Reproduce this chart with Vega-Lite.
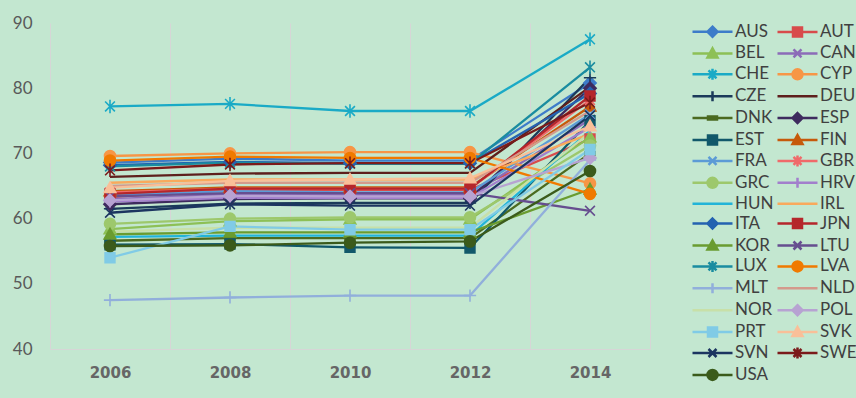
{
"$schema": "https://vega.github.io/schema/vega-lite/v6.json",
"width": 600, "height": 326,
"padding": {"top": 14, "left": 12, "right": 0, "bottom": 14},
"background": "#c3e7d0",
"config": {"view": {"stroke": null}, "font": "Lato",
  "legend": {"columns": 2, "direction": "horizontal", "labelFont": "Lato", "labelFontSize": 17, "labelColor": "#404040", "symbolSize": 100, "symbolStrokeWidth": 2.5, "rowPadding": 0.9, "columnPadding": -2, "labelOffset": 14, "offset": 54, "padding": 0, "symbolLimit": 0}},
"datasets": {"d": [
{"c":"AUS","year":"2006","v":68.6},{"c":"AUS","year":"2008","v":69.2},{"c":"AUS","year":"2010","v":68.9},{"c":"AUS","year":"2012","v":68.9},{"c":"AUS","year":"2014","v":80.8},
{"c":"AUT","year":"2006","v":63.3},{"c":"AUT","year":"2008","v":64.4},{"c":"AUT","year":"2010","v":64.4},{"c":"AUT","year":"2012","v":64.4},{"c":"AUT","year":"2014","v":72.2},
{"c":"BEL","year":"2006","v":58.4},{"c":"BEL","year":"2008","v":59.6},{"c":"BEL","year":"2010","v":59.9},{"c":"BEL","year":"2012","v":59.9},{"c":"BEL","year":"2014","v":72.5},
{"c":"CAN","year":"2006","v":63.0},{"c":"CAN","year":"2008","v":63.7},{"c":"CAN","year":"2010","v":63.6},{"c":"CAN","year":"2012","v":63.6},{"c":"CAN","year":"2014","v":75.2},
{"c":"CHE","year":"2006","v":77.2},{"c":"CHE","year":"2008","v":77.6},{"c":"CHE","year":"2010","v":76.5},{"c":"CHE","year":"2012","v":76.5},{"c":"CHE","year":"2014","v":87.5},
{"c":"CYP","year":"2006","v":69.6},{"c":"CYP","year":"2008","v":70.0},{"c":"CYP","year":"2010","v":70.2},{"c":"CYP","year":"2012","v":70.2},{"c":"CYP","year":"2014","v":65.4},
{"c":"CZE","year":"2006","v":61.5},{"c":"CZE","year":"2008","v":62.3},{"c":"CZE","year":"2010","v":62.4},{"c":"CZE","year":"2012","v":62.4},{"c":"CZE","year":"2014","v":81.6},
{"c":"DEU","year":"2006","v":66.4},{"c":"DEU","year":"2008","v":66.9},{"c":"DEU","year":"2010","v":67.0},{"c":"DEU","year":"2012","v":67.0},{"c":"DEU","year":"2014","v":80.2},
{"c":"DNK","year":"2006","v":56.6},{"c":"DNK","year":"2008","v":57.0},{"c":"DNK","year":"2010","v":57.0},{"c":"DNK","year":"2012","v":57.0},{"c":"DNK","year":"2014","v":70.0},
{"c":"ESP","year":"2006","v":62.2},{"c":"ESP","year":"2008","v":63.0},{"c":"ESP","year":"2010","v":63.1},{"c":"ESP","year":"2012","v":63.1},{"c":"ESP","year":"2014","v":80.0},
{"c":"EST","year":"2006","v":56.0},{"c":"EST","year":"2008","v":56.1},{"c":"EST","year":"2010","v":55.6},{"c":"EST","year":"2012","v":55.5},{"c":"EST","year":"2014","v":75.0},
{"c":"FIN","year":"2006","v":64.2},{"c":"FIN","year":"2008","v":64.8},{"c":"FIN","year":"2010","v":64.8},{"c":"FIN","year":"2012","v":64.8},{"c":"FIN","year":"2014","v":77.2},
{"c":"FRA","year":"2006","v":63.6},{"c":"FRA","year":"2008","v":64.2},{"c":"FRA","year":"2010","v":64.0},{"c":"FRA","year":"2012","v":64.0},{"c":"FRA","year":"2014","v":76.0},
{"c":"GBR","year":"2006","v":64.0},{"c":"GBR","year":"2008","v":64.6},{"c":"GBR","year":"2010","v":64.6},{"c":"GBR","year":"2012","v":64.6},{"c":"GBR","year":"2014","v":78.2},
{"c":"GRC","year":"2006","v":59.2},{"c":"GRC","year":"2008","v":60.0},{"c":"GRC","year":"2010","v":60.2},{"c":"GRC","year":"2012","v":60.2},{"c":"GRC","year":"2014","v":71.2},
{"c":"HRV","year":"2006","v":62.6},{"c":"HRV","year":"2008","v":63.2},{"c":"HRV","year":"2010","v":63.2},{"c":"HRV","year":"2012","v":63.2},{"c":"HRV","year":"2014","v":74.0},
{"c":"HUN","year":"2006","v":57.2},{"c":"HUN","year":"2008","v":57.4},{"c":"HUN","year":"2010","v":57.4},{"c":"HUN","year":"2012","v":57.4},{"c":"HUN","year":"2014","v":73.5},
{"c":"IRL","year":"2006","v":65.5},{"c":"IRL","year":"2008","v":66.0},{"c":"IRL","year":"2010","v":66.0},{"c":"IRL","year":"2012","v":66.0},{"c":"IRL","year":"2014","v":73.0},
{"c":"ITA","year":"2006","v":68.2},{"c":"ITA","year":"2008","v":68.7},{"c":"ITA","year":"2010","v":68.5},{"c":"ITA","year":"2012","v":68.5},{"c":"ITA","year":"2014","v":79.2},
{"c":"JPN","year":"2006","v":63.8},{"c":"JPN","year":"2008","v":64.6},{"c":"JPN","year":"2010","v":64.6},{"c":"JPN","year":"2012","v":64.6},{"c":"JPN","year":"2014","v":78.8},
{"c":"KOR","year":"2006","v":57.6},{"c":"KOR","year":"2008","v":57.9},{"c":"KOR","year":"2010","v":57.9},{"c":"KOR","year":"2012","v":57.9},{"c":"KOR","year":"2014","v":64.5},
{"c":"LTU","year":"2006","v":63.4},{"c":"LTU","year":"2008","v":63.9},{"c":"LTU","year":"2010","v":63.9},{"c":"LTU","year":"2012","v":63.9},{"c":"LTU","year":"2014","v":61.2},
{"c":"LUX","year":"2006","v":68.0},{"c":"LUX","year":"2008","v":68.6},{"c":"LUX","year":"2010","v":68.4},{"c":"LUX","year":"2012","v":68.4},{"c":"LUX","year":"2014","v":83.2},
{"c":"LVA","year":"2006","v":68.9},{"c":"LVA","year":"2008","v":69.5},{"c":"LVA","year":"2010","v":69.3},{"c":"LVA","year":"2012","v":69.3},{"c":"LVA","year":"2014","v":63.8},
{"c":"MLT","year":"2006","v":47.5},{"c":"MLT","year":"2008","v":47.9},{"c":"MLT","year":"2010","v":48.2},{"c":"MLT","year":"2012","v":48.2},{"c":"MLT","year":"2014","v":69.0},
{"c":"NLD","year":"2006","v":65.0},{"c":"NLD","year":"2008","v":65.5},{"c":"NLD","year":"2010","v":65.5},{"c":"NLD","year":"2012","v":65.5},{"c":"NLD","year":"2014","v":76.5},
{"c":"NOR","year":"2006","v":58.0},{"c":"NOR","year":"2008","v":58.6},{"c":"NOR","year":"2010","v":58.6},{"c":"NOR","year":"2012","v":58.6},{"c":"NOR","year":"2014","v":73.2},
{"c":"POL","year":"2006","v":62.8},{"c":"POL","year":"2008","v":63.5},{"c":"POL","year":"2010","v":63.4},{"c":"POL","year":"2012","v":63.4},{"c":"POL","year":"2014","v":69.3},
{"c":"PRT","year":"2006","v":54.0},{"c":"PRT","year":"2008","v":58.8},{"c":"PRT","year":"2010","v":58.3},{"c":"PRT","year":"2012","v":58.3},{"c":"PRT","year":"2014","v":70.6},
{"c":"SVK","year":"2006","v":64.7},{"c":"SVK","year":"2008","v":65.8},{"c":"SVK","year":"2010","v":66.0},{"c":"SVK","year":"2012","v":66.2},{"c":"SVK","year":"2014","v":74.2},
{"c":"SVN","year":"2006","v":60.9},{"c":"SVN","year":"2008","v":62.2},{"c":"SVN","year":"2010","v":62.0},{"c":"SVN","year":"2012","v":62.0},{"c":"SVN","year":"2014","v":75.8},
{"c":"SWE","year":"2006","v":67.4},{"c":"SWE","year":"2008","v":68.3},{"c":"SWE","year":"2010","v":68.5},{"c":"SWE","year":"2012","v":68.5},{"c":"SWE","year":"2014","v":77.8},
{"c":"USA","year":"2006","v":55.8},{"c":"USA","year":"2008","v":55.9},{"c":"USA","year":"2010","v":56.3},{"c":"USA","year":"2012","v":56.5},{"c":"USA","year":"2014","v":67.3}
]},
"data": {"name": "d"},
"encoding": {
  "x": {"field": "year", "type": "ordinal", "scale": {"type": "band", "paddingInner": 0, "paddingOuter": 0},
    "axis": {"title": null, "labelAngle": 0, "domain": true, "domainColor": "#d6d6d6", "ticks": false, "grid": true, "tickBand": "extent", "gridColor": "#d6d6d6", "gridWidth": 1, "labelFont": "DejaVu Sans", "labelFontWeight": "bold", "labelFontSize": 15, "labelColor": "#666666", "labelPadding": 16}},
  "y": {"field": "v", "type": "quantitative", "scale": {"domain": [40, 90], "nice": false, "zero": false},
    "axis": {"title": null, "values": [40, 50, 60, 70, 80, 90], "grid": false, "domain": false, "ticks": false, "labelFont": "Lato", "labelFontSize": 17, "labelColor": "#595959", "labelPadding": 18}}
},
"layer": [
  {"mark": {"type": "line", "strokeWidth": 2.3},
   "encoding": {"color": {"field": "c", "type": "nominal", "legend": null,
     "scale": {"domain": ["AUS","AUT","BEL","CAN","CHE","CYP","CZE","DEU","DNK","ESP","EST","FIN","FRA","GBR","GRC","HRV","HUN","IRL","ITA","JPN","KOR","LTU","LUX","LVA","MLT","NLD","NOR","POL","PRT","SVK","SVN","SWE","USA"],
       "range": ["#3d7cc9","#d84b4b","#8dc056","#8c6cb8","#1aaac6","#f79646","#1b3a5a","#5e1f1c","#4b6a20","#3e2b5e","#11586a","#c65a0b","#5c9bd6","#f06a6a","#9dc86c","#a27fcc","#22b4d8","#f9a95c","#2462b0","#b5262b","#6a9c30","#664e8f","#1a8ca0","#f07a00","#91afdb","#d49a8c","#c8e0a8","#b7a3d2","#80cbe6","#f9bf98","#1c3560","#7b1a1a","#3b5b1b"]}}}},
  {"mark": {"type": "point", "filled": true, "opacity": 1, "size": 150, "strokeWidth": 1.6},
   "encoding": {
     "fill": {"field": "c", "type": "nominal", "legend": null,
       "scale": {"domain": ["AUS","AUT","BEL","CAN","CHE","CYP","CZE","DEU","DNK","ESP","EST","FIN","FRA","GBR","GRC","HRV","HUN","IRL","ITA","JPN","KOR","LTU","LUX","LVA","MLT","NLD","NOR","POL","PRT","SVK","SVN","SWE","USA"],
       "range": ["#3d7cc9","#d84b4b","#8dc056","#8c6cb8","#1aaac6","#f79646","#1b3a5a","#5e1f1c","#4b6a20","#3e2b5e","#11586a","#c65a0b","#5c9bd6","#f06a6a","#9dc86c","#a27fcc","#22b4d8","#f9a95c","#2462b0","#b5262b","#6a9c30","#664e8f","#1a8ca0","#f07a00","#91afdb","#d49a8c","#c8e0a8","#b7a3d2","#80cbe6","#f9bf98","#1c3560","#7b1a1a","#3b5b1b"]}},
     "stroke": {"field": "c", "type": "nominal", "legend": null,
       "scale": {"domain": ["AUS","AUT","BEL","CAN","CHE","CYP","CZE","DEU","DNK","ESP","EST","FIN","FRA","GBR","GRC","HRV","HUN","IRL","ITA","JPN","KOR","LTU","LUX","LVA","MLT","NLD","NOR","POL","PRT","SVK","SVN","SWE","USA"],
       "range": ["#3d7cc9","#d84b4b","#8dc056","#8c6cb8","#1aaac6","#f79646","#1b3a5a","#5e1f1c","#4b6a20","#3e2b5e","#11586a","#c65a0b","#5c9bd6","#f06a6a","#9dc86c","#a27fcc","#22b4d8","#f9a95c","#2462b0","#b5262b","#6a9c30","#664e8f","#1a8ca0","#f07a00","#91afdb","#d49a8c","#c8e0a8","#b7a3d2","#80cbe6","#f9bf98","#1c3560","#7b1a1a","#3b5b1b"]}},
     "shape": {"field": "c", "type": "nominal", "legend": null,
       "scale": {"domain": ["AUS","AUT","BEL","CAN","CHE","CYP","CZE","DEU","DNK","ESP","EST","FIN","FRA","GBR","GRC","HRV","HUN","IRL","ITA","JPN","KOR","LTU","LUX","LVA","MLT","NLD","NOR","POL","PRT","SVK","SVN","SWE","USA"],
       "range": ["M0,-1L1,0L0,1L-1,0Z","M-0.8,-0.8H0.8V0.8H-0.8Z","M0,-0.95L0.95,0.75H-0.95Z","M-0.8,-0.8L0.8,0.8M-0.8,0.8L0.8,-0.8","M-0.8,-0.8L0.8,0.8M-0.8,0.8L0.8,-0.8M0,-1.1V1.1","M-0.9,0A0.9,0.9 0 1,0 0.9,0A0.9,0.9 0 1,0 -0.9,0Z","M0,-1V1M-1,0H1","M0,0","M-0.8,-0.25H0.8V0.25H-0.8Z","M0,-1L1,0L0,1L-1,0Z","M-0.8,-0.8H0.8V0.8H-0.8Z","M0,-0.95L0.95,0.75H-0.95Z","M-0.8,-0.8L0.8,0.8M-0.8,0.8L0.8,-0.8","M-0.8,-0.8L0.8,0.8M-0.8,0.8L0.8,-0.8M0,-1.1V1.1","M-0.9,0A0.9,0.9 0 1,0 0.9,0A0.9,0.9 0 1,0 -0.9,0Z","M0,-1V1M-1,0H1","M0,0","M0,0","M0,-1L1,0L0,1L-1,0Z","M-0.8,-0.8H0.8V0.8H-0.8Z","M0,-0.95L0.95,0.75H-0.95Z","M-0.8,-0.8L0.8,0.8M-0.8,0.8L0.8,-0.8","M-0.8,-0.8L0.8,0.8M-0.8,0.8L0.8,-0.8M0,-1.1V1.1","M-0.9,0A0.9,0.9 0 1,0 0.9,0A0.9,0.9 0 1,0 -0.9,0Z","M0,-1V1M-1,0H1","M0,0","M0,0","M0,-1L1,0L0,1L-1,0Z","M-0.8,-0.8H0.8V0.8H-0.8Z","M0,-0.95L0.95,0.75H-0.95Z","M-0.8,-0.8L0.8,0.8M-0.8,0.8L0.8,-0.8","M-0.8,-0.8L0.8,0.8M-0.8,0.8L0.8,-0.8M0,-1.1V1.1","M-0.9,0A0.9,0.9 0 1,0 0.9,0A0.9,0.9 0 1,0 -0.9,0Z"]}}
   }},
  {"transform": [{"filter": "datum.v < 0"}],
   "mark": {"type": "point", "filled": true, "opacity": 1, "size": 100},
   "encoding": {
     "fill": {"field": "c", "type": "nominal", "legend": {"title": null},
       "scale": {"domain": ["AUS","AUT","BEL","CAN","CHE","CYP","CZE","DEU","DNK","ESP","EST","FIN","FRA","GBR","GRC","HRV","HUN","IRL","ITA","JPN","KOR","LTU","LUX","LVA","MLT","NLD","NOR","POL","PRT","SVK","SVN","SWE","USA"],
       "range": ["#3d7cc9","#d84b4b","#8dc056","#8c6cb8","#1aaac6","#f79646","#1b3a5a","#5e1f1c","#4b6a20","#3e2b5e","#11586a","#c65a0b","#5c9bd6","#f06a6a","#9dc86c","#a27fcc","#22b4d8","#f9a95c","#2462b0","#b5262b","#6a9c30","#664e8f","#1a8ca0","#f07a00","#91afdb","#d49a8c","#c8e0a8","#b7a3d2","#80cbe6","#f9bf98","#1c3560","#7b1a1a","#3b5b1b"]}},
     "stroke": {"field": "c", "type": "nominal", "legend": {"title": null},
       "scale": {"domain": ["AUS","AUT","BEL","CAN","CHE","CYP","CZE","DEU","DNK","ESP","EST","FIN","FRA","GBR","GRC","HRV","HUN","IRL","ITA","JPN","KOR","LTU","LUX","LVA","MLT","NLD","NOR","POL","PRT","SVK","SVN","SWE","USA"],
       "range": ["#3d7cc9","#d84b4b","#8dc056","#8c6cb8","#1aaac6","#f79646","#1b3a5a","#5e1f1c","#4b6a20","#3e2b5e","#11586a","#c65a0b","#5c9bd6","#f06a6a","#9dc86c","#a27fcc","#22b4d8","#f9a95c","#2462b0","#b5262b","#6a9c30","#664e8f","#1a8ca0","#f07a00","#91afdb","#d49a8c","#c8e0a8","#b7a3d2","#80cbe6","#f9bf98","#1c3560","#7b1a1a","#3b5b1b"]}},
     "shape": {"field": "c", "type": "nominal", "legend": {"title": null},
       "scale": {"domain": ["AUS","AUT","BEL","CAN","CHE","CYP","CZE","DEU","DNK","ESP","EST","FIN","FRA","GBR","GRC","HRV","HUN","IRL","ITA","JPN","KOR","LTU","LUX","LVA","MLT","NLD","NOR","POL","PRT","SVK","SVN","SWE","USA"],
       "range": ["M-4,0H4M0,-1L1,0L0,1L-1,0Z","M-4,0H4M-0.9,-0.9H0.9V0.9H-0.9Z","M-4,0H4M0,-1L1,0.8H-1Z","M-4,0H4M-0.8,-0.8L0.8,0.8M-0.8,0.8L0.8,-0.8","M-4,0H4M-0.8,-0.8L0.8,0.8M-0.8,0.8L0.8,-0.8M0,-1.1V1.1","M-4,0H4M-1,0A1,1 0 1,0 1,0A1,1 0 1,0 -1,0Z","M-4,0H4M0,-1V1","M-4,0H4","M-4,0H4M-0.9,-0.3H0.9V0.3H-0.9Z","M-4,0H4M0,-1L1,0L0,1L-1,0Z","M-4,0H4M-0.9,-0.9H0.9V0.9H-0.9Z","M-4,0H4M0,-1L1,0.8H-1Z","M-4,0H4M-0.8,-0.8L0.8,0.8M-0.8,0.8L0.8,-0.8","M-4,0H4M-0.8,-0.8L0.8,0.8M-0.8,0.8L0.8,-0.8M0,-1.1V1.1","M-4,0H4M-1,0A1,1 0 1,0 1,0A1,1 0 1,0 -1,0Z","M-4,0H4M0,-1V1","M-4,0H4","M-4,0H4","M-4,0H4M0,-1L1,0L0,1L-1,0Z","M-4,0H4M-0.9,-0.9H0.9V0.9H-0.9Z","M-4,0H4M0,-1L1,0.8H-1Z","M-4,0H4M-0.8,-0.8L0.8,0.8M-0.8,0.8L0.8,-0.8","M-4,0H4M-0.8,-0.8L0.8,0.8M-0.8,0.8L0.8,-0.8M0,-1.1V1.1","M-4,0H4M-1,0A1,1 0 1,0 1,0A1,1 0 1,0 -1,0Z","M-4,0H4M0,-1V1","M-4,0H4","M-4,0H4","M-4,0H4M0,-1L1,0L0,1L-1,0Z","M-4,0H4M-0.9,-0.9H0.9V0.9H-0.9Z","M-4,0H4M0,-1L1,0.8H-1Z","M-4,0H4M-0.8,-0.8L0.8,0.8M-0.8,0.8L0.8,-0.8","M-4,0H4M-0.8,-0.8L0.8,0.8M-0.8,0.8L0.8,-0.8M0,-1.1V1.1","M-4,0H4M-1,0A1,1 0 1,0 1,0A1,1 0 1,0 -1,0Z"]}}
   }}
],
"resolve": {"scale": {"shape": "independent", "fill": "independent", "stroke": "independent"}}
}
